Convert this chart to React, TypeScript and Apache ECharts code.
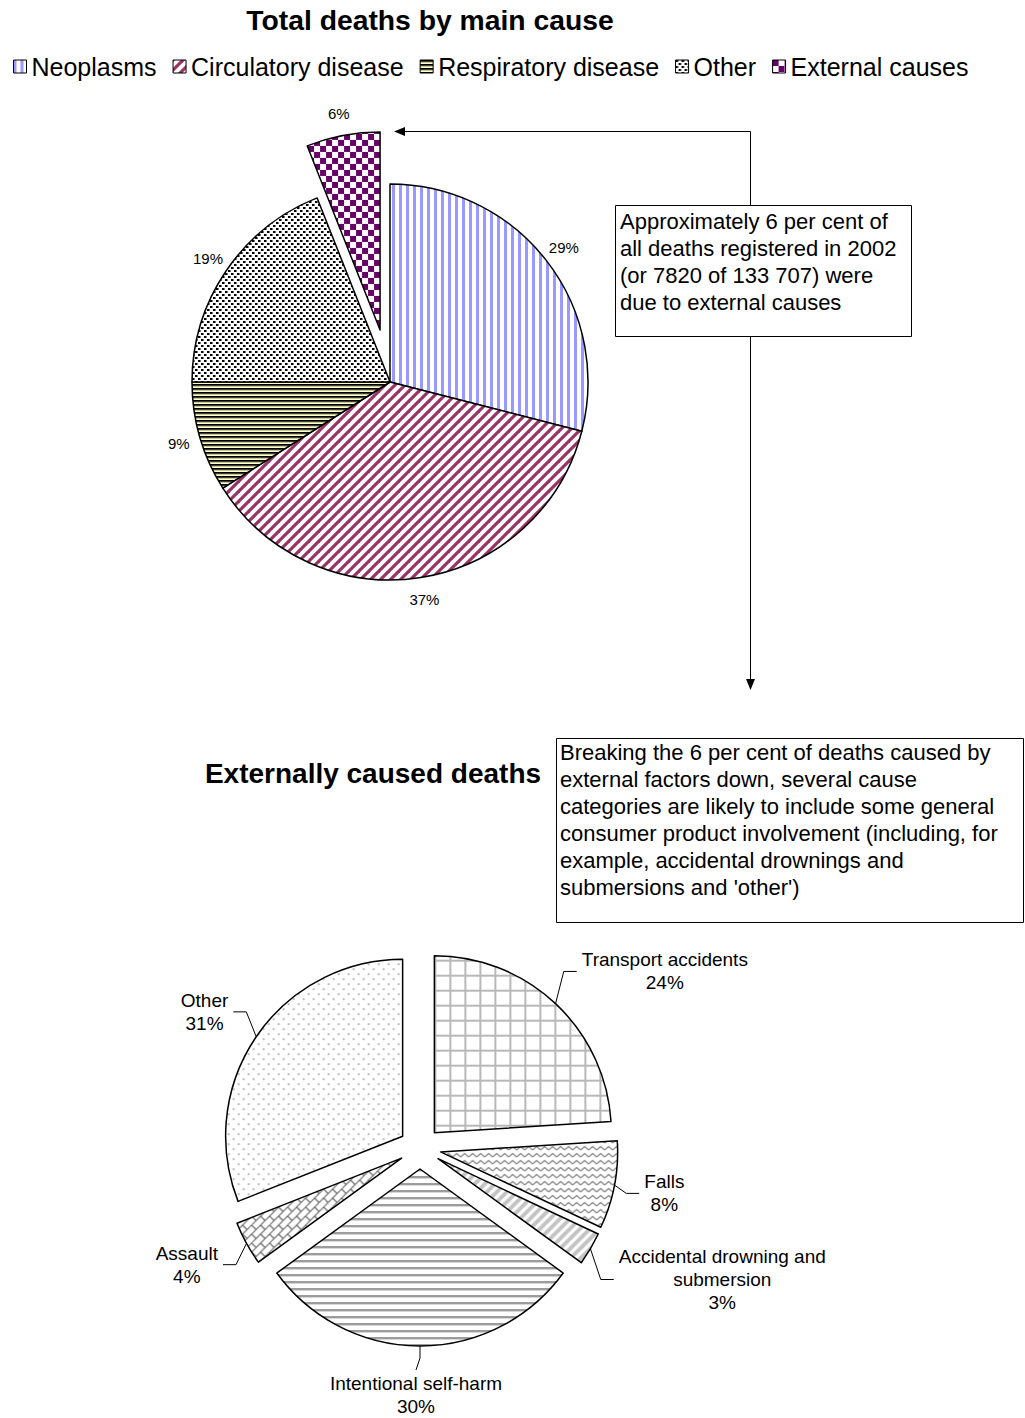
import React, { useEffect, useRef } from 'react';
import * as echarts from 'echarts';

// ---------- data ----------
const mainCauses = ['Neoplasms', 'Circulatory disease', 'Respiratory disease', 'Other', 'External causes'];
const mainShares = [29, 37, 9, 19, 6];
const externalCauses = [
  'Transport accidents',
  'Falls',
  'Accidental drowning and\nsubmersion',
  'Intentional self-harm',
  'Assault',
  'Other',
];
const externalShares = [24, 8, 3, 30, 4, 31];

const mainTitle = 'Total deaths by main cause';
const externalTitle = 'Externally caused deaths';
const note1 = 'Approximately 6 per cent of\nall deaths registered in 2002\n(or 7820 of 133 707) were\ndue to external causes';
const note2 =
  "Breaking the 6 per cent of deaths caused by\nexternal factors down, several cause\ncategories are likely to include some general\nconsumer product involvement (including, for\nexample, accidental drownings and\nsubmersions and 'other')";

const FONT = 'Arial, "Liberation Sans", Helvetica, sans-serif';

function tile(w: number, h: number, draw: (c: CanvasRenderingContext2D) => void, bg = '#ffffff') {
  const cv = document.createElement('canvas');
  cv.width = w;
  cv.height = h;
  const c = cv.getContext('2d') as CanvasRenderingContext2D;
  c.fillStyle = bg;
  c.fillRect(0, 0, w, h);
  draw(c);
  return { image: cv, repeat: 'repeat', imageWidth: w, imageHeight: h } as any;
}

function diag(c: CanvasRenderingContext2D, size: number, color: string, width: number) {
  c.strokeStyle = color;
  c.lineWidth = width;
  for (const o of [-size, 0, size]) {
    c.beginPath();
    c.moveTo(o - 3, size + 3);
    c.lineTo(o + size + 3, -3);
    c.stroke();
  }
}

function buildPatterns() {
  const neo = tile(7, 8, (c) => {
    c.fillStyle = '#9999FF';
    c.fillRect(0, 0, 3, 8);
  });
  const circ = tile(10, 10, (c) => diag(c, 10, '#993366', 3.2));
  const resp = tile(4, 4, (c) => {
    c.fillStyle = '#000000';
    c.fillRect(0, 0, 4, 1);
    c.fillStyle = '#3c3c30';
    c.fillRect(0, 1, 4, 1);
    c.fillStyle = '#c8c896';
    c.fillRect(0, 2, 4, 1);
  }, '#FFFFCC');
  const other = tile(6, 6, (c) => {
    c.fillStyle = '#000000';
    c.fillRect(0, 0, 2, 2);
    c.fillRect(3, 3, 2, 2);
    c.fillStyle = '#777777';
    c.fillRect(2, 0, 1, 2);
    c.fillRect(5, 3, 1, 2);
  });
  const ext = tile(12, 12, (c) => {
    c.fillStyle = '#660066';
    c.fillRect(0, 0, 6, 6);
    c.fillRect(6, 6, 6, 6);
  });

  const transport = tile(15, 15, (c) => {
    c.fillStyle = '#B8B8B8';
    c.fillRect(0, 0, 15, 2);
    c.fillRect(0, 0, 2, 15);
  });
  const falls = tile(8, 7, (c) => {
    c.strokeStyle = '#808080';
    c.lineWidth = 1.2;
    c.beginPath();
    c.moveTo(0, 5);
    c.lineTo(4, 1.5);
    c.lineTo(8, 5);
    c.stroke();
  });
  const drown = tile(10, 10, (c) => diag(c, 10, '#C4C4C4', 4));
  const self = tile(4, 7, (c) => {
    c.fillStyle = '#9c9c9c';
    c.fillRect(0, 0, 4, 2);
    c.fillStyle = '#d6d6d6';
    c.fillRect(0, 2, 4, 1);
  });
  const assault = tile(18, 18, (c) => {
    const T = 18;
    const B = 9;
    c.strokeStyle = '#6a6a6a';
    c.lineWidth = 1.2;
    for (let s = -T; s <= 3 * T; s += B) {
      c.beginPath();
      c.moveTo(s + T, -T);
      c.lineTo(s - 2 * T, 2 * T);
      c.stroke();
    }
    for (let k = -4; k <= 8; k++) {
      const base = (((k % 2) + 2) % 2) * B;
      for (let m = -4; m <= 4; m++) {
        const d = base + 2 * B * m;
        const s0 = k * B;
        const s1 = (k + 1) * B;
        c.beginPath();
        c.moveTo((s0 + d) / 2, (s0 - d) / 2);
        c.lineTo((s1 + d) / 2, (s1 - d) / 2);
        c.stroke();
      }
    }
  });
  const otherExt = tile(10, 10, (c) => {
    c.fillStyle = '#BDBDBD';
    c.fillRect(0, 0, 2, 2);
    c.fillRect(5, 5, 2, 2);
  });
  return {
    main: [neo, circ, resp, other, ext],
    external: [transport, falls, drown, self, assault, otherExt],
  };
}

// top pie: centre each percentage on the end of the (hidden) label line
function topLabelLayout(p: any) {
  const w = p.labelRect.width;
  const side = p.align === 'right' ? -1 : 1;
  return { dx: -side * (5 + w / 2), align: p.align };
}

function bottomLabelLayout(p: any) {
  const pts = p.labelLinePoints;
  if (!pts || pts.length < 3) return {};
  const a = pts[0];
  const b = pts[1];
  const e = pts[2];
  const vx = b[0] - a[0];
  const vy = b[1] - a[1];
  const len = Math.hypot(vx, vy) || 1;
  const ux = vx / len;
  const uy = vy / len;
  const w = p.labelRect.width;
  const h = p.labelRect.height;
  const side = p.align === 'right' ? -1 : 1;
  const cx0 = e[0] + side * (5 + w / 2);
  if (Math.abs(ux) < 0.3) {
    const sy = uy >= 0 ? 1 : -1;
    const tip = [b[0] - 4, b[1] + 12 * sy];
    return {
      dx: tip[0] - cx0,
      dy: tip[1] + sy * (2 + h / 2) - e[1],
      labelLinePoints: [a, b, tip],
    };
  }
  const dy = uy * h * 0.7;
  return { dy, labelLinePoints: [a, [b[0], b[1] + dy], [e[0], e[1] + dy]] };
}

function buildOption() {
  const pats = buildPatterns();
  const mainData = mainCauses.map((name, i) => ({
    name,
    value: mainShares[i],
    selected: i === mainCauses.length - 1,
    itemStyle: { color: pats.main[i] },
  }));
  const extData = externalCauses.map((name, i) => ({
    name,
    value: externalShares[i],
    selected: true,
    itemStyle: { color: pats.external[i] },
  }));

  return {
    animation: false,
    backgroundColor: '#ffffff',
    title: [
      {
        text: mainTitle,
        left: 430,
        top: 6,
        textAlign: 'center',
        padding: 0,
        textStyle: { fontSize: 28.3, fontWeight: 'bold', fontFamily: FONT, color: '#000', lineHeight: 28 },
      },
      {
        text: externalTitle,
        left: 373,
        top: 759,
        textAlign: 'center',
        padding: 0,
        textStyle: { fontSize: 28, fontWeight: 'bold', fontFamily: FONT, color: '#000', lineHeight: 28 },
      },
    ],
    legend: {
      data: mainCauses,
      left: 13,
      top: 54,
      padding: 0,
      icon: 'rect',
      itemWidth: 13,
      itemHeight: 13,
      itemGap: 16,
      selectedMode: false,
      itemStyle: { borderColor: '#000', borderWidth: 1 },
      textStyle: { fontSize: 25, fontFamily: FONT, color: '#000' },
    },
    series: [
      {
        type: 'pie',
        name: 'main',
        center: [390, 382],
        radius: 198,
        startAngle: 90,
        clockwise: true,
        selectedMode: 'single',
        selectedOffset: 53,
        avoidLabelOverlap: false,
        emphasis: { disabled: true },
        itemStyle: { borderColor: '#000', borderWidth: 1.5 },
        select: { itemStyle: { borderColor: '#000', borderWidth: 1.5 } },
        label: {
          show: true,
          position: 'outside',
          formatter: (p: any) => Math.round(p.percent) + '%',
          fontSize: 15,
          fontFamily: FONT,
          color: '#000',
        },
        labelLine: { show: false, length: 22, length2: 0 },
        labelLayout: topLabelLayout,
        data: mainData,
      },
      {
        type: 'pie',
        name: 'external',
        center: [420, 1148],
        radius: 177,
        startAngle: 90,
        clockwise: true,
        selectedMode: 'multiple',
        selectedOffset: 21,
        avoidLabelOverlap: false,
        emphasis: { disabled: true },
        itemStyle: { borderColor: '#000', borderWidth: 1.5 },
        select: { itemStyle: { borderColor: '#000', borderWidth: 1.5 } },
        label: {
          show: true,
          position: 'outside',
          formatter: (p: any) => {
            const lines = String(p.name).split('\n').map((s: string) => `{t|${s}}`);
            lines.push(`{t|${Math.round(p.percent)}%}`);
            return lines.join('\n');
          },
          fontSize: 19,
          lineHeight: 23,
          fontFamily: FONT,
          color: '#000',
          rich: { t: { align: 'center', fontSize: 19, lineHeight: 23, fontFamily: FONT, color: '#000' } },
        },
        labelLine: { show: true, length: 12, length2: 13, lineStyle: { color: '#000', width: 1 } },
        labelLayout: bottomLabelLayout,
        data: extData,
      },
    ],
    graphic: [
      {
        type: 'polyline',
        shape: { points: [[750.5, 205], [750.5, 131.5], [404, 131.5]] },
        style: { stroke: '#000', lineWidth: 1, fill: null },
      },
      {
        type: 'polygon',
        shape: { points: [[394, 131.5], [405, 127], [405, 136]] },
        style: { fill: '#000' },
      },
      {
        type: 'line',
        shape: { x1: 750.5, y1: 336, x2: 750.5, y2: 680 },
        style: { stroke: '#000', lineWidth: 1 },
      },
      {
        type: 'polygon',
        shape: { points: [[750.5, 690], [746, 679], [755, 679]] },
        style: { fill: '#000' },
      },
      {
        type: 'rect',
        shape: { x: 615.5, y: 205.5, width: 296, height: 131 },
        style: { fill: '#fff', stroke: '#000', lineWidth: 1 },
      },
      {
        type: 'text',
        x: 620,
        y: 208,
        style: {
          text: note1,
          fontSize: 22,
          fontFamily: FONT,
          lineHeight: 27,
          fill: '#000',
          align: 'left',
          verticalAlign: 'top',
        },
      },
      {
        type: 'rect',
        shape: { x: 556.5, y: 738.5, width: 467, height: 184 },
        style: { fill: '#fff', stroke: '#000', lineWidth: 1 },
      },
      {
        type: 'text',
        x: 560,
        y: 739,
        style: {
          text: note2,
          fontSize: 22,
          fontFamily: FONT,
          lineHeight: 27,
          fill: '#000',
          align: 'left',
          verticalAlign: 'top',
        },
      },
    ],
  };
}

export default function App() {
  const ref = useRef<HTMLDivElement>(null);
  useEffect(() => {
    if (!ref.current) return;
    const chart = echarts.init(ref.current, undefined, { renderer: 'svg' });
    chart.setOption(buildOption() as any);
    return () => {
      chart.dispose();
    };
  }, []);
  return (
    <div
      ref={ref}
      style={{ position: 'absolute', left: 0, top: 0, width: 1025, height: 1418, background: '#fff' }}
    />
  );
}
